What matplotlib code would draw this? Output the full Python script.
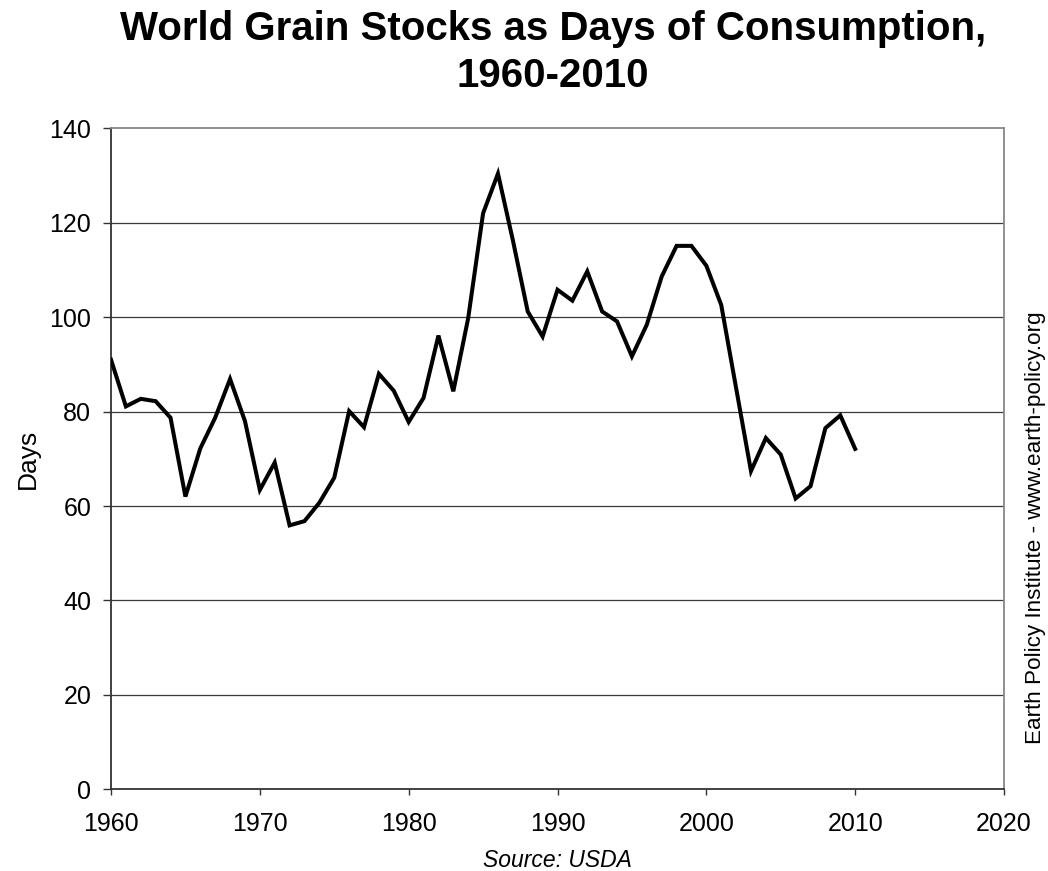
import matplotlib
matplotlib.use("Agg")
import matplotlib.pyplot as plt

years = list(range(1960, 2011))
days = [91.0, 81.1, 82.7, 82.2, 78.7, 62.0, 72.2, 78.7, 86.9, 78.0,
        63.4, 69.2, 55.9, 56.8, 60.7, 66.0, 80.1, 76.7, 88.0, 84.4,
        77.8, 82.9, 96.1, 84.3, 99.8, 122.0, 130.4, 116.3, 101.2, 95.9,
        105.8, 103.5, 109.7, 101.2, 99.1, 91.7, 98.4, 108.6, 115.1, 115.1,
        110.9, 102.6, 85.0, 67.4, 74.4, 70.9, 61.6, 64.2, 76.5, 79.2,
        72.1]

x_ticks = [1960, 1970, 1980, 1990, 2000, 2010, 2020]
y_ticks = [0, 20, 40, 60, 80, 100, 120, 140]

title_line1 = "World Grain Stocks as Days of Consumption,"
title_line2 = "1960-2010"
ylabel = "Days"
source = "Source: USDA"
credit = "Earth Policy Institute - www.earth-policy.org"

plt.rcParams['font.family'] = ['Liberation Sans', 'DejaVu Sans']

fig = plt.figure(figsize=(10.48, 8.71), dpi=100)
W, H = 1048, 871
left, right, top, bottom = 111, 1004, 128.3, 789.3
ax = fig.add_axes([left / W, 1 - bottom / H, (right - left) / W, (bottom - top) / H])

ax.plot(years, days, color='black', lw=2.9, solid_joinstyle='miter', zorder=3)

ax.set_xlim(1960, 2020)
ax.set_ylim(0, 140)
ax.set_xticks(x_ticks)
ax.set_yticks(y_ticks)
ax.tick_params(axis='both', direction='out', width=1, labelsize=18, color='#333333')
ax.tick_params(axis='x', length=4.3, pad=11.7)
ax.tick_params(axis='y', length=5.8, pad=8.5)

for yv in y_ticks[1:-1]:
    ax.axhline(yv, color='#3a3a3a', lw=0.9, zorder=1)

for s in ['left', 'bottom']:
    ax.spines[s].set_color('#333333')
    ax.spines[s].set_linewidth(1.3)
for s in ['right', 'top']:
    ax.spines[s].set_color('#888888')
    ax.spines[s].set_linewidth(1.3)

ax.set_ylabel(ylabel, fontsize=19, labelpad=7)

fig.text(553 / W, 1 - 39.5 / H, title_line1, ha='center', va='baseline',
         fontsize=29, fontweight='bold')
fig.text(553 / W, 1 - 87.3 / H, title_line2, ha='center', va='baseline',
         fontsize=29, fontweight='bold')
fig.text(557 / W, 1 - 866.5 / H, source, ha='center', va='baseline', fontsize=16.5,
         style='italic')
fig.text(1036 / W, 1 - 528 / H, credit, ha='center', va='center', fontsize=16.2,
         rotation=90)

fig.savefig("out.png", dpi=100)
